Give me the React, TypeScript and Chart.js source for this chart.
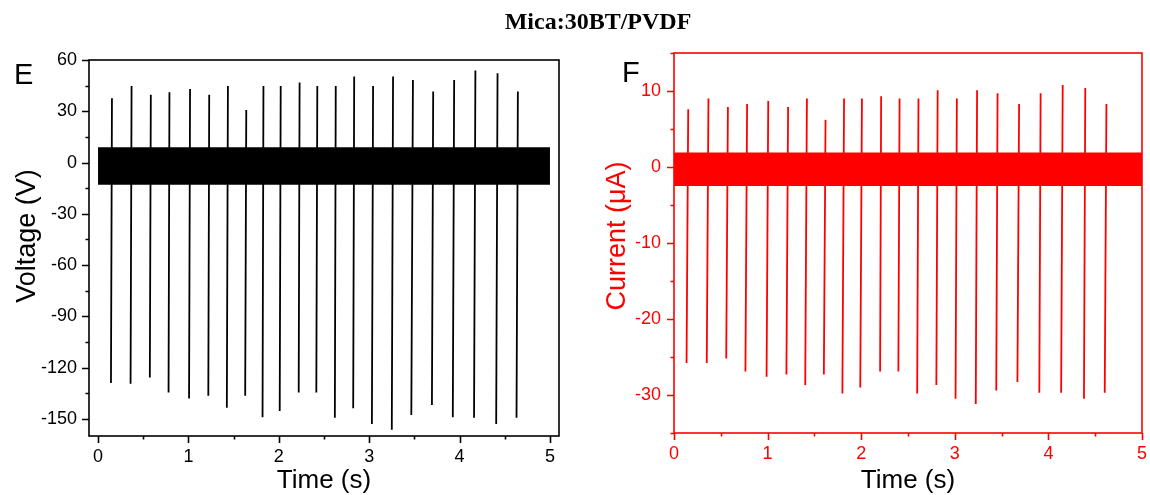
import React, { useEffect, useRef } from 'react';
import { Chart, registerables } from 'chart.js';

Chart.register(...registerables);

// ---------- Panel E: voltage ----------
const voltageDipTimes = [0.143, 0.36, 0.573, 0.78, 1.007, 1.22, 1.425, 1.628, 1.82, 2.01, 2.22, 2.415, 2.62, 2.823, 3.03, 3.25, 3.466, 3.694, 3.925, 4.16, 4.405, 4.63];
const voltageDips = [-129, -129.4, -125.7, -134.5, -138, -136.4, -143.4, -136.4, -149, -145.4, -134.5, -134.5, -149.3, -143.8, -153, -156.3, -147.7, -141.9, -149, -149.3, -153, -149.3];
const voltagePeakTimes = [0.154, 0.371, 0.584, 0.79, 1.018, 1.23, 1.437, 1.64, 1.83, 2.021, 2.23, 2.426, 2.63, 2.834, 3.043, 3.264, 3.484, 3.708, 3.94, 4.175, 4.42, 4.645];
const voltagePeaks = [37.6, 44.8, 39.6, 41.2, 43.0, 39.6, 44.8, 30.8, 44.8, 44.8, 46.8, 44.8, 44.8, 50.3, 44.8, 50.3, 48.3, 41.5, 48.3, 53.8, 52.2, 41.5];
const voltageBandTimes = [0, 5.0];
const voltageBandTop = [9, 9];
const voltageBandBottom = [-13, -13];
const voltageTickLabels = ['-150', '-120', '-90', '-60', '-30', '0', '30', '60'];

// ---------- Panel F: current ----------
const currentDipTimes = [0.134, 0.35, 0.558, 0.763, 0.989, 1.201, 1.402, 1.601, 1.799, 1.99, 2.202, 2.397, 2.598, 2.803, 3.008, 3.224, 3.443, 3.669, 3.903, 4.136, 4.38, 4.602];
const currentDips = [-25.8, -25.8, -25.2, -26.9, -27.6, -27.3, -28.7, -27.3, -29.8, -29.0, -26.9, -26.9, -29.8, -28.7, -30.5, -31.2, -29.4, -28.3, -29.7, -29.7, -30.5, -29.7];
const currentPeakTimes = [0.152, 0.368, 0.576, 0.781, 1.007, 1.219, 1.42, 1.619, 1.817, 2.008, 2.213, 2.41, 2.612, 2.817, 3.022, 3.238, 3.457, 3.687, 3.917, 4.153, 4.394, 4.62];
const currentPeaks = [7.6, 9.0, 7.9, 8.3, 8.7, 7.9, 9.0, 6.2, 9.0, 9.0, 9.3, 9.0, 9.0, 10.1, 9.0, 10.1, 9.7, 8.3, 9.7, 10.8, 10.4, 8.3];
const currentBandTimes = [0, 5.0];
const currentBandTop = [1.9, 1.9];
const currentBandBottom = [-2.5, -2.5];
const currentTickLabels = ['-30', '-20', '-10', '0', '10'];

const timeTickLabels = ['0', '1', '2', '3', '4', '5'];

const FONT = "'Liberation Sans', Arial, sans-serif";
const RED = '#ff0000';

function spikePoints(dipT: number[], dip: number[], peakT: number[], peak: number[]) {
  const pts: { x: number; y: number | null }[] = [];
  for (let i = 0; i < dipT.length; i++) {
    pts.push({ x: dipT[i], y: dip[i] });
    pts.push({ x: peakT[i], y: peak[i] });
    pts.push({ x: peakT[i], y: null });
  }
  return pts;
}

function bandPoints(t: number[], v: number[]) {
  return t.map((x, i) => ({ x, y: v[i] }));
}

const frameTicks = {
  id: 'frameTicks',
  afterDraw(chart: any, _args: any, opts: any) {
    const { ctx, chartArea } = chart;
    const { left, right, top, bottom } = chartArea;
    ctx.save();
    ctx.strokeStyle = opts.color;
    ctx.lineWidth = 1.6;
    ctx.strokeRect(left, top, right - left, bottom - top);
    const xs = chart.scales.x;
    const ys = chart.scales.y;
    ctx.beginPath();
    xs.ticks.forEach((t: any) => {
      const px = Math.round(xs.getPixelForValue(t.value)) + 0.5;
      const len = t.label !== '' ? 7 : 3.5;
      ctx.moveTo(px, bottom);
      ctx.lineTo(px, bottom + len);
    });
    ys.ticks.forEach((t: any) => {
      const py = Math.round(ys.getPixelForValue(t.value)) + 0.5;
      const len = t.label !== '' ? 7 : 3.5;
      ctx.moveTo(left, py);
      ctx.lineTo(left - len, py);
    });
    ctx.stroke();
    ctx.restore();
  },
};

type PanelProps = {
  color: string;
  yMin: number;
  yMax: number;
  yStep: number;
  yLabels: string[];
  xMin: number;
  xMax: number;
  yAxisWidth: number;
  xAxisHeight: number;
  padTop: number;
  padRight: number;
  yTickPad: number;
  bandT: number[];
  bandTop: number[];
  bandBottom: number[];
  dipT: number[];
  dip: number[];
  peakT: number[];
  peak: number[];
};

function Panel(p: PanelProps) {
  const ref = useRef<HTMLCanvasElement | null>(null);
  useEffect(() => {
    if (!ref.current) return;
    const chart = new Chart(ref.current, {
      type: 'line',
      data: {
        datasets: [
          {
            data: bandPoints(p.bandT, p.bandTop),
            borderWidth: 0,
            borderColor: p.color,
            backgroundColor: p.color,
            pointRadius: 0,
            fill: '+1',
          },
          {
            data: bandPoints(p.bandT, p.bandBottom),
            borderWidth: 0,
            borderColor: p.color,
            backgroundColor: p.color,
            pointRadius: 0,
            fill: false,
          },
          {
            data: spikePoints(p.dipT, p.dip, p.peakT, p.peak),
            borderWidth: 1.8,
            borderColor: p.color,
            pointRadius: 0,
            fill: false,
            spanGaps: false,
          },
        ] as any,
      },
      options: {
        animation: false,
        responsive: false,
        events: [],
        layout: { padding: { left: 0, top: p.padTop, right: p.padRight, bottom: 0 } },
        plugins: {
          legend: { display: false },
          tooltip: { enabled: false },
          frameTicks: { color: p.color },
        } as any,
        scales: {
          x: {
            type: 'linear',
            min: p.xMin,
            max: p.xMax,
            afterFit: (s: any) => { s.height = p.xAxisHeight; },
            border: { display: false },
            grid: { display: true, drawOnChartArea: false, drawTicks: true, tickLength: 7, tickColor: 'rgba(0,0,0,0)' },
            ticks: {
              stepSize: 0.5,
              includeBounds: false,
              autoSkip: false,
              maxRotation: 0,
              padding: 3,
              color: p.color,
              font: { family: FONT, size: 18 },
              callback: (v: any) => {
                const s = String(Math.round(Number(v) * 1000) / 1000);
                return timeTickLabels.includes(s) ? s : '';
              },
            },
            title: {
              display: true,
              text: 'Time (s)',
              color: '#000',
              font: { family: FONT, size: 26, lineHeight: 1 },
              padding: { top: 0, bottom: 1 },
            },
          },
          y: {
            type: 'linear',
            min: p.yMin,
            max: p.yMax,
            afterFit: (s: any) => { s.width = p.yAxisWidth; },
            border: { display: false },
            grid: { display: true, drawOnChartArea: false, drawTicks: true, tickLength: 7, tickColor: 'rgba(0,0,0,0)' },
            ticks: {
              stepSize: p.yStep,
              includeBounds: false,
              autoSkip: false,
              padding: p.yTickPad,
              color: p.color,
              font: { family: FONT, size: 18 },
              callback: (v: any) => {
                const s = String(Math.round(Number(v)));
                return p.yLabels.includes(s) ? s : '';
              },
            },
            title: { display: false },
          },
        },
      },
      plugins: [frameTicks as any],
    });
    return () => chart.destroy();
  }, []);
  return <canvas ref={ref} width={575} height={495} style={{ display: 'block' }} />;
}

function VTitle(props: { text: string; cx: number; cy: number; color: string }) {
  return (
    <div
      style={{
        position: 'absolute',
        left: props.cx,
        top: props.cy,
        transform: 'translate(-50%, -50%) rotate(-90deg)',
        fontFamily: FONT,
        fontSize: 27,
        lineHeight: '27px',
        color: props.color,
        whiteSpace: 'nowrap',
      }}
    >
      {props.text}
    </div>
  );
}

export default function App() {
  return (
    <div style={{ position: 'absolute', left: 0, top: 0, width: 1150, height: 495, background: '#fff', overflow: 'hidden' }}>
      <div style={{ position: 'absolute', left: 0, top: 0 }}>
        <Panel
          color="#000000"
          yMin={-160}
          yMax={60}
          yStep={15}
          yLabels={voltageTickLabels}
          xMin={-0.1}
          xMax={5.1}
          yAxisWidth={89}
          xAxisHeight={59}
          padTop={60}
          padRight={16}
          yTickPad={5}
          bandT={voltageBandTimes}
          bandTop={voltageBandTop}
          bandBottom={voltageBandBottom}
          dipT={voltageDipTimes}
          dip={voltageDips}
          peakT={voltagePeakTimes}
          peak={voltagePeaks}
        />
      </div>
      <div style={{ position: 'absolute', left: 575, top: 0 }}>
        <Panel
          color={RED}
          yMin={-35}
          yMax={15}
          yStep={5}
          yLabels={currentTickLabels}
          xMin={0}
          xMax={5}
          yAxisWidth={99}
          xAxisHeight={62}
          padTop={53}
          padRight={7}
          yTickPad={6}
          bandT={currentBandTimes}
          bandTop={currentBandTop}
          bandBottom={currentBandBottom}
          dipT={currentDipTimes}
          dip={currentDips}
          peakT={currentPeakTimes}
          peak={currentPeaks}
        />
      </div>
      <VTitle text="Voltage (V)" cx={26} cy={236} color="#000" />
      <VTitle text="Current (μA)" cx={616} cy={236} color={RED} />
      <div style={{ position: 'absolute', left: 398, top: 9, width: 400, textAlign: 'center', fontFamily: "'Liberation Serif', 'Times New Roman', serif", fontWeight: 'bold', fontSize: 24, lineHeight: '24px', color: '#000', whiteSpace: 'nowrap' }}>
        Mica:30BT/PVDF
      </div>
      <div style={{ position: 'absolute', left: 14, top: 60, fontFamily: FONT, fontSize: 29, lineHeight: '29px', color: '#000' }}>E</div>
      <div style={{ position: 'absolute', left: 622, top: 58, fontFamily: FONT, fontSize: 29, lineHeight: '29px', color: '#000' }}>F</div>
    </div>
  );
}
